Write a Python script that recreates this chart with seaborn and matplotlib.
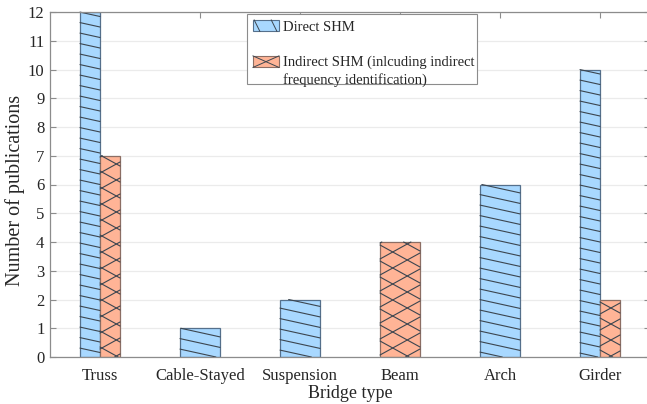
import numpy as np
import pandas as pd
import matplotlib
matplotlib.use("Agg")
import matplotlib.pyplot as plt
import seaborn as sns
from matplotlib.patches import Rectangle
from matplotlib.lines import Line2D
from matplotlib.legend_handler import HandlerPatch
from matplotlib.transforms import IdentityTransform

# ---- data ----
categories = ["Truss", "Cable-Stayed", "Suspension", "Beam", "Arch", "Girder"]
direct_shm = [12, 1, 2, 0, 6, 10]
indirect_shm = [7, 0, 0, 4, 0, 2]
series_names = ["Direct SHM",
                "Indirect SHM (inlcuding indirect\nfrequency identification)"]
y_ticks = list(range(0, 13))

df = pd.DataFrame({
    "Bridge type": categories * 2,
    "count": direct_shm + indirect_shm,
    "series": [series_names[0]] * len(categories) + [series_names[1]] * len(categories),
})

blue = "#A8D8FF"
salmon = "#FFB496"
blue_edge = "#55708C"
salmon_edge = "#8C6E64"
hatch_col = "#3C4650"

sns.set_theme(style="white")
plt.rcParams["font.family"] = ["Liberation Serif", "DejaVu Serif"]

W, H = 647, 404
fig = plt.figure(figsize=(W / 100, H / 100), dpi=100)
ax = fig.add_axes([50 / W, (H - 357) / H, 600 / W, 345 / H])

sns.barplot(data=df, x="Bridge type", y="count", hue="series",
            palette=[blue, salmon], width=0.4, dodge=True, ax=ax,
            legend=False, saturation=1)

ax.set_xlim(-0.5, len(categories) - 0.5)
ax.set_ylim(0, 12)

# adjust bar widths: single-series categories get full group width
vals = [direct_shm, indirect_shm]
edges = [blue_edge, salmon_edge]
bars = []
for si, cont in enumerate(ax.containers):
    for ci, p in enumerate(cont.patches):
        v = vals[si][ci]
        other = vals[1 - si][ci]
        p.set_edgecolor(edges[si])
        p.set_linewidth(0.9)
        if v == 0:
            p.set_visible(False)
            continue
        if other == 0:
            p.set_x(ci - 0.2)
            p.set_width(0.4)
        bars.append((si, p))

# custom hatching drawn in pixel space, limited to each bar
def hatch_lines(p, slopes, spacing):
    x0, y0 = ax.transData.transform((p.get_x(), 0))
    x1, y1 = ax.transData.transform((p.get_x() + p.get_width(), p.get_height()))
    for s in slopes:
        cmin = min(y0 - s * x0, y0 - s * x1) - spacing
        cmax = max(y1 - s * x0, y1 - s * x1) + spacing
        cs = np.arange(np.floor(cmin / spacing) * spacing, cmax, spacing)
        for c in cs:
            pts = []
            for xe in (x0, x1):
                ye = c + s * xe
                if y0 <= ye <= y1:
                    pts.append((xe, ye))
            for ye in (y0, y1):
                if s != 0:
                    xe = (ye - c) / s
                    if x0 <= xe <= x1:
                        pts.append((xe, ye))
            if len(pts) < 2:
                continue
            pts = sorted(set(pts))
            (xa0, ya0), (xa1, ya1) = pts[0], pts[-1]
            if abs(xa1 - xa0) < 0.5:
                continue
            ln = Line2D([xa0, xa1], [ya0, ya1], transform=IdentityTransform(),
                        color=hatch_col, lw=0.8, zorder=p.get_zorder() + 0.1)
            ax.add_artist(ln)
            ln.set_clip_on(False)

for si, p in bars:
    if si == 0:
        hatch_lines(p, [-0.22], 10.5)
    else:
        hatch_lines(p, [0.55, -0.55], 16.0)

# grid and axes styling
ax.set_yticks(y_ticks)
ax.yaxis.grid(True, color="#EBEBEB", lw=0.9)
ax.xaxis.grid(False)
ax.set_axisbelow(True)
for sp in ax.spines.values():
    sp.set_visible(True)
    sp.set_color("#8C8C8C")
    sp.set_linewidth(0.9)
ax.tick_params(axis="both", direction="in", length=4, width=0.8, color="#8C8C8C",
               top=True, right=True, labelsize=12, labelcolor="#262626",
               bottom=True, left=True)
ax.tick_params(axis="x", pad=8)
ax.tick_params(axis="y", pad=4)
ax.set_xlabel("Bridge type", fontsize=13, color="#262626", labelpad=1)
ax.set_ylabel("Number of publications", fontsize=14.5, color="#262626")
ax.yaxis.set_label_coords(-0.041, 0.484)

# legend with custom handles
class HatchHandler(HandlerPatch):
    def __init__(self, kind, shift=0.0, **kw):
        super().__init__(**kw)
        self.kind = kind
        self.shift = shift

    def create_artists(self, legend, orig_handle, xdescent, ydescent,
                       width, height, fontsize, trans):
        x0, y0 = -xdescent, -ydescent + self.shift * fontsize
        fc = blue if self.kind == 0 else salmon
        ec = blue_edge if self.kind == 0 else salmon_edge
        rect = Rectangle((x0, y0), width, height, facecolor=fc, edgecolor=ec,
                         lw=0.8, transform=trans)
        arts = [rect]
        if self.kind == 0:
            segs = [((0.05, 1), (0.27, 0)), ((0.70, 1), (0.92, 0))]
        else:
            segs = [((0, 1), (1, 0)), ((0, 0), (1, 1))]
        for (a, b), (c, d) in segs:
            arts.append(Line2D([x0 + a * width, x0 + c * width],
                               [y0 + b * height, y0 + d * height],
                               color=hatch_col, lw=0.7, transform=trans))
        return arts

# legend frame (drawn separately for a tight box)
frame = Rectangle((247 / W, 1 - 84 / H), 230 / W, 70 / H, transform=fig.transFigure,
                  facecolor="white", edgecolor="#8C8C8C", lw=0.8, zorder=4.9,
                  clip_on=False)
ax.add_artist(frame)

h0 = Rectangle((0, 0), 1, 1)
h1 = Rectangle((0, 0), 1, 1)
leg = ax.legend([h0, h1], series_names,
                handler_map={h0: HatchHandler(0), h1: HatchHandler(1, shift=0.66)},
                loc="upper left", bbox_to_anchor=(247 / W, 1 - 14 / H),
                bbox_transform=fig.transFigure, borderaxespad=0,
                fontsize=10.5, frameon=False,
                handlelength=1.8, handleheight=0.85,
                handletextpad=0.3, labelspacing=1.5, borderpad=0.4)
leg.set_zorder(5)
for t in leg.get_texts():
    t.set_color("#262626")
    t.set_linespacing(1.38)

fig.savefig("out.png", dpi=100)
